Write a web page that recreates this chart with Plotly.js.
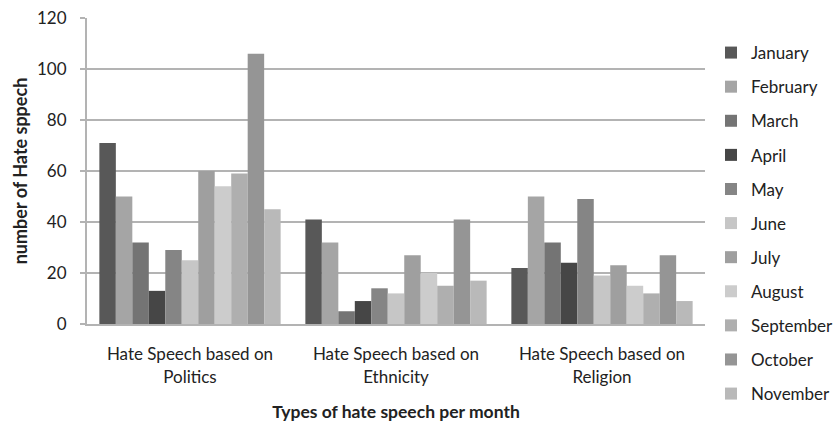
<!DOCTYPE html>
<html>
<head>
<meta charset="utf-8">
<script src="https://cdn.plot.ly/plotly-3.0.1.min.js"></script>
<style>
  html, body { margin: 0; padding: 0; background: #fff; }
  #chart { width: 834px; height: 422px; }
</style>
</head>
<body>
<div id="chart"></div>
<script>
// Hate speech counts per category, one series per month
const categories = [
  'Hate Speech based on<br>Politics',
  'Hate Speech based on<br>Ethnicity',
  'Hate Speech based on<br>Religion'
];
const months = ['January', 'February', 'March', 'April', 'May', 'June',
                'July', 'August', 'September', 'October', 'November'];

const january   = [71, 41, 22];
const february  = [50, 32, 50];
const march     = [32, 5, 32];
const april     = [13, 9, 24];
const may       = [29, 14, 49];
const june      = [25, 12, 19];
const july      = [60, 27, 23];
const august    = [54, 20, 15];
const september = [59, 15, 12];
const october   = [106, 41, 27];
const november  = [45, 17, 9];

const yTicks = [0, 20, 40, 60, 80, 100, 120];

const seriesValues = [january, february, march, april, may, june,
                      july, august, september, october, november];
const monthColors = ['#585858', '#a5a5a5', '#747474', '#464646', '#858585', '#c6c6c6',
                     '#9f9f9f', '#cccccc', '#afafaf', '#959595', '#b9b9b9'];

const FONT = 'Lato, "Open Sans", sans-serif';

const traces = months.map((m, i) => ({
  type: 'bar',
  name: m,
  x: categories,
  y: seriesValues[i],
  legendgroup: m,
  marker: { color: monthColors[i], line: { width: 0 } },
  hoverinfo: 'x+y+name'
}));

const layout = {
  width: 834,
  height: 422,
  margin: { l: 87, r: 129, t: 18, b: 98, autoexpand: false },
  paper_bgcolor: '#ffffff',
  plot_bgcolor: '#ffffff',
  font: { family: FONT, size: 17, color: '#222222' },
  barmode: 'group',
  bargap: 0.12,
  bargroupgap: 0,
  showlegend: true,
  legend: {
    xref: 'container', yref: 'container',
    x: 0.8525, xanchor: 'left',
    y: 0.917, yanchor: 'top',
    traceorder: 'grouped',
    tracegroupgap: 9,
    maxheight: 420,
    font: { family: FONT, size: 17, color: '#222222' },
    itemwidth: 30
  },
  xaxis: {
    type: 'category',
    showgrid: false,
    showline: true,
    linecolor: '#b3b3b3',
    linewidth: 2,
    ticks: 'outside',
    ticklen: 0,
    ticklabelstandoff: 14,
    tickfont: { family: FONT, size: 17, color: '#222222' },
    title: {
      text: '<b>Types of hate speech per month</b>',
      font: { family: FONT, size: 17.5, color: '#222222' },
      standoff: 21
    },
    fixedrange: true
  },
  yaxis: {
    range: [0, 120],
    tickvals: yTicks,
    ticktext: yTicks.map(String),
    showgrid: true,
    gridcolor: '#b3b3b3',
    gridwidth: 2,
    showline: true,
    linecolor: '#b3b3b3',
    linewidth: 2,
    zeroline: false,
    ticks: 'outside',
    ticklen: 5,
    tickcolor: '#b3b3b3',
    tickwidth: 2,
    ticklabelstandoff: 10,
    tickfont: { family: FONT, size: 17, color: '#222222' },
    title: {
      text: '<b>number of Hate sppech</b>',
      font: { family: FONT, size: 18, color: '#222222' },
      standoff: 5
    },
    fixedrange: true
  }
};

Plotly.newPlot('chart', traces, layout, { displayModeBar: false, staticPlot: true });
</script>
</body>
</html>
